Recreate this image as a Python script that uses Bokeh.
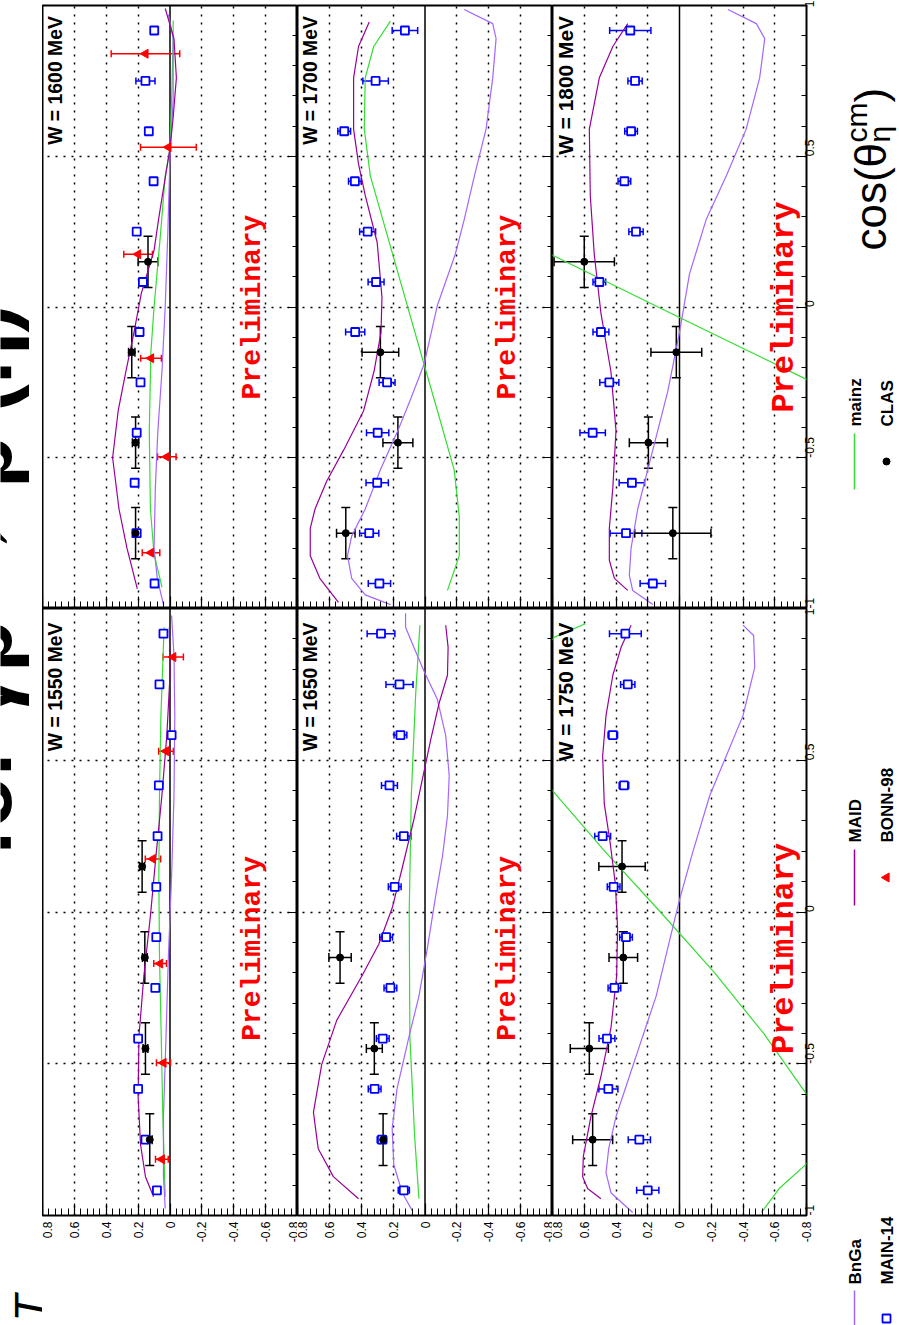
import math
from bokeh.plotting import figure
from bokeh.layouts import row, column
from bokeh.models import (Range1d, FixedTicker, CustomJSTickFormatter,
                          ColumnDataSource, Whisker, TeeHead, Span)
from bokeh.core.properties import value
from bokeh.embed import file_html
from bokeh.resources import INLINE

SANS = value("Liberation Sans")
MONO = value("Liberation Mono")

BLUE = "#0000ff"
RED = "#ff0000"
BNGA_COLOR = "#a366ff"
MAID_COLOR = "#990099"
MAINZ_COLOR = "#33dd33"

# ---------------------------------------------------------------- axes
T_MAJOR = [-0.8, -0.6, -0.4, -0.2, 0.0, 0.2, 0.4, 0.6, 0.8]
T_MINOR = [round(-0.8 + 0.04 * i, 2) for i in range(41)]
T_GRID = [-0.6, -0.4, -0.2, 0.2, 0.4, 0.6]
COS_MAJOR = [-1.0, -0.5, 0.0, 0.5, 1.0]
COS_MINOR = [round(-1.0 + 0.1 * i, 1) for i in range(21)]
COS_GRID = [-0.5, 0.0, 0.5]

# ---------------------------------------------------------------- angular bins
COS_MAIN14 = [-0.917, -0.75, -0.583, -0.417, -0.25, -0.083,
              0.083, 0.25, 0.417, 0.583, 0.75, 0.917]
COS_CLAS = [-0.75, -0.45, -0.15, 0.15]
COS_CLAS_HALF = 0.085
COS_BONN98 = [-0.815, -0.497, -0.17, 0.175, 0.53, 0.84]

# ---------------------------------------------------------------- MAIN-14
MAIN14_T_1550 = [0.082, 0.154, 0.2, 0.2, 0.092, 0.086, 0.086, 0.078, 0.07, -0.01, 0.066, 0.041]
MAIN14_E_1550 = [0.015] * 12
MAIN14_T_1600 = [0.097, 0.209, 0.222, 0.209, 0.185, 0.191, 0.17, 0.209, 0.103, 0.133, 0.154, 0.099]
MAIN14_E_1600 = [0.02, 0.02, 0.02, 0.02, 0.02, 0.02, 0.02, 0.02, 0.02, 0.02, 0.06, 0.02]
MAIN14_T_1650 = [0.133, 0.27, 0.316, 0.265, 0.217, 0.244, 0.19, 0.133, 0.223, 0.154, 0.16, 0.276]
MAIN14_E_1650 = [0.035, 0.03, 0.04, 0.04, 0.04, 0.04, 0.04, 0.045, 0.05, 0.04, 0.085, 0.087]
MAIN14_T_1700 = [0.286, 0.35, 0.3, 0.297, 0.238, 0.438, 0.307, 0.36, 0.44, 0.507, 0.31, 0.126]
MAIN14_E_1700 = [0.07, 0.06, 0.07, 0.07, 0.05, 0.06, 0.05, 0.05, 0.04, 0.04, 0.08, 0.08]
MAIN14_T_1750 = [0.2, 0.253, 0.448, 0.457, 0.41, 0.337, 0.415, 0.484, 0.35, 0.42, 0.326, 0.341]
MAIN14_E_1750 = [0.07, 0.07, 0.06, 0.05, 0.04, 0.04, 0.04, 0.05, 0.03, 0.03, 0.045, 0.1]
MAIN14_T_1800 = [0.168, 0.337, 0.3, 0.547, 0.442, 0.495, 0.505, 0.274, 0.347, 0.305, 0.28, 0.31]
MAIN14_E_1800 = [0.08, 0.1, 0.08, 0.08, 0.06, 0.05, 0.04, 0.045, 0.04, 0.04, 0.045, 0.13]

# ---------------------------------------------------------------- CLAS
CLAS_T_1550 = [0.127, 0.154, 0.158, 0.175]
CLAS_E_1550 = [0.015, 0.015, 0.015, 0.015]
CLAS_T_1600 = [0.216, 0.216, 0.24, 0.138]
CLAS_E_1600 = [0.02, 0.02, 0.02, 0.062]
CLAS_T_1650 = [0.263, 0.318, 0.533]
CLAS_E_1650 = [0.02, 0.05, 0.07]
CLAS_T_1700 = [0.497, 0.17, 0.28]
CLAS_E_1700 = [0.058, 0.094, 0.115]
CLAS_T_1750 = [0.547, 0.568, 0.354, 0.362]
CLAS_E_1750 = [0.126, 0.12, 0.09, 0.146]
CLAS_T_1800 = [0.042, 0.196, 0.02, 0.6]
CLAS_E_1800 = [0.24, 0.12, 0.16, 0.19]

# ---------------------------------------------------------------- BONN-98
BONN98_T_1550 = [0.051, 0.041, 0.062, 0.107, 0.025, -0.02]
BONN98_E_1550 = [0.04, 0.044, 0.04, 0.048, 0.046, 0.064]
BONN98_T_1600 = [0.119, 0.02, 0.119, 0.2, 0.01, 0.154]
BONN98_E_1600 = [0.055, 0.058, 0.065, 0.09, 0.175, 0.215]

# ---------------------------------------------------------------- model curves
BNGA_COS_1550 = [-0.977, -0.872, -0.674, -0.41, -0.145, 0.119, 0.383, 0.647, 0.845, 0.977]
BNGA_T_1550 = [0.03, 0.041, 0.041, 0.025, 0.01, -0.01, -0.025, -0.03, -0.025, -0.01]
MAID_COS_1550 = [-0.938, -0.872, -0.766, -0.608, -0.41, -0.211, -0.013, 0.185, 0.383, 0.581, 0.78, 0.938]
MAID_T_1550 = [0.103, 0.154, 0.185, 0.2, 0.195, 0.164, 0.123, 0.088, 0.051, 0.02, 0.0, 0.004]
MAINZ_COS_1550 = [-0.938, -0.674, -0.41, -0.145, 0.119, 0.383, 0.647, 0.938]
MAINZ_T_1550 = [0.03, 0.045, 0.055, 0.066, 0.07, 0.066, 0.057, 0.037]

BNGA_COS_1600 = [-0.99, -0.9, -0.8, -0.6, -0.41, -0.21, 0.0, 0.24, 0.5, 0.69, 0.89, 0.97]
BNGA_T_1600 = [0.04, 0.08, 0.1, 0.092, 0.076, 0.05, 0.03, 0.014, 0.0, -0.02, -0.02, 0.01]
MAID_COS_1600 = [-0.935, -0.8, -0.67, -0.5, -0.344, -0.214, -0.084, 0.045, 0.188, 0.29,
                 0.396, 0.526, 0.63, 0.76, 0.89, 0.99]
MAID_T_1600 = [0.205, 0.27, 0.32, 0.36, 0.325, 0.277, 0.226, 0.18, 0.1, 0.072,
               0.04, 0.0, -0.02, -0.04, -0.025, 0.03]
MAINZ_COS_1600 = [-0.93, -0.82, -0.67, -0.41, -0.15, 0.0, 0.24, 0.435, 0.526, 0.69, 0.89, 0.95]
MAINZ_T_1600 = [0.05, 0.1, 0.123, 0.13, 0.12, 0.1, 0.06, 0.03, 0.0, -0.01, -0.02, -0.02]

BNGA_COS_1650 = [-0.984, -0.925, -0.832, -0.713, -0.581, -0.41, -0.277, -0.119, 0.053,
                 0.185, 0.317, 0.449, 0.581, 0.7, 0.793, 0.872, 0.938, 0.984]
BNGA_T_1650 = [0.08, 0.143, 0.196, 0.206, 0.175, 0.1, 0.038, -0.015, -0.067,
               -0.11, -0.141, -0.152, -0.13, -0.078, 0.006, 0.07, 0.122, 0.122]
MAID_COS_1650 = [-0.945, -0.872, -0.78, -0.66, -0.502, -0.357, -0.211, -0.106, 0.013,
                 0.145, 0.304, 0.436, 0.568, 0.687, 0.78, 0.872, 0.945]
MAID_T_1650 = [0.417, 0.575, 0.67, 0.7, 0.648, 0.554, 0.396, 0.29, 0.206,
               0.143, 0.07, 0.017, -0.036, -0.088, -0.141, -0.145, -0.13]
MAINZ_COS_1650 = [-0.945, -0.74, -0.41, 0.0, 0.383, 0.713, 0.945]
MAINZ_T_1650 = [0.038, 0.065, 0.095, 0.099, 0.086, 0.059, 0.032]

BNGA_COS_1700 = [-0.987, -0.955, -0.9, -0.825, -0.76, -0.67, -0.54, -0.41, -0.305, -0.19,
                 0.006, 0.175, 0.29, 0.435, 0.59, 0.76, 0.89, 0.94, 0.987]
BNGA_T_1700 = [0.217, 0.375, 0.46, 0.486, 0.46, 0.375, 0.28, 0.17, 0.09, 0.006,
               -0.078, -0.19, -0.246, -0.31, -0.383, -0.425, -0.446, -0.425, -0.246]
MAID_COS_1700 = [-0.98, -0.9, -0.825, -0.734, -0.67, -0.578, -0.474, -0.344, -0.214,
                 -0.084, 0.032, 0.214, 0.37, 0.474, 0.59, 0.76, 0.864, 0.945]
MAID_T_1700 = [0.543, 0.66, 0.72, 0.72, 0.69, 0.617, 0.51, 0.385, 0.32,
               0.276, 0.27, 0.3, 0.375, 0.417, 0.448, 0.448, 0.417, 0.35]
MAINZ_COS_1700 = [-0.94, -0.825, -0.695, -0.54, -0.344, -0.19, 0.045, 0.24, 0.435,
                  0.59, 0.76, 0.864, 0.948]
MAINZ_T_1700 = [-0.141, -0.215, -0.215, -0.183, -0.078, 0.006, 0.133, 0.238, 0.343,
                0.381, 0.375, 0.322, 0.217]

BNGA_COS_1750 = [-0.99, -0.925, -0.859, -0.78, -0.674, -0.542, -0.41, -0.277, -0.119,
                 0.04, 0.198, 0.383, 0.515, 0.647, 0.806, 0.911, 0.945]
BNGA_T_1750 = [0.295, 0.432, 0.463, 0.446, 0.4, 0.316, 0.232, 0.147, 0.074,
               0.0, -0.084, -0.19, -0.295, -0.4, -0.474, -0.467, -0.4]
MAID_COS_1750 = [-0.945, -0.911, -0.872, -0.806, -0.674, -0.542, -0.383, -0.211, -0.053,
                 0.092, 0.225, 0.357, 0.515, 0.647, 0.78, 0.872, 0.945]
MAID_T_1750 = [0.495, 0.579, 0.61, 0.606, 0.558, 0.495, 0.432, 0.396, 0.39,
               0.404, 0.436, 0.474, 0.484, 0.463, 0.42, 0.368, 0.305]
MAINZ_COS_1750 = [-0.99, -0.91, -0.83, -0.72, -0.6, -0.4, -0.2, 0.0, 0.2, 0.4, 0.65, 0.905, 0.95]
MAINZ_T_1750 = [-0.516, -0.63, -0.8, -0.9, -0.8, -0.53, -0.22, 0.12, 0.47, 0.8, 1.2, 0.79, 0.594]

BNGA_COS_1800 = [-0.987, -0.94, -0.89, -0.8, -0.67, -0.474, -0.28, -0.084, 0.11, 0.29,
                 0.435, 0.59, 0.76, 0.89, 0.94, 0.987]
BNGA_T_1800 = [0.168, 0.295, 0.316, 0.305, 0.263, 0.168, 0.074, 0.0, -0.063, -0.168,
               -0.295, -0.42, -0.505, -0.537, -0.484, -0.305]
MAID_COS_1800 = [-0.94, -0.9, -0.84, -0.734, -0.6, -0.41, -0.214, -0.02, 0.175, 0.37,
                 0.59, 0.76, 0.864, 0.94]
MAID_T_1800 = [0.326, 0.41, 0.442, 0.442, 0.42, 0.4, 0.432, 0.495, 0.537, 0.562,
               0.568, 0.505, 0.42, 0.326]
MAINZ_COS_1800 = [-0.35, -0.24, 0.0, 0.169, 0.3]
MAINZ_T_1800 = [-1.23, -0.8, 0.135, 0.79, 1.3]

PANELS = [
    dict(w=1600, row=0, col=0, main=(MAIN14_T_1600, MAIN14_E_1600),
         clas=(COS_CLAS, CLAS_T_1600, CLAS_E_1600), bonn=(BONN98_T_1600, BONN98_E_1600),
         bnga=(BNGA_COS_1600, BNGA_T_1600), maid=(MAID_COS_1600, MAID_T_1600),
         mainz=(MAINZ_COS_1600, MAINZ_T_1600)),
    dict(w=1700, row=0, col=1, main=(MAIN14_T_1700, MAIN14_E_1700),
         clas=(COS_CLAS[:3], CLAS_T_1700, CLAS_E_1700), bonn=None,
         bnga=(BNGA_COS_1700, BNGA_T_1700), maid=(MAID_COS_1700, MAID_T_1700),
         mainz=(MAINZ_COS_1700, MAINZ_T_1700)),
    dict(w=1800, row=0, col=2, main=(MAIN14_T_1800, MAIN14_E_1800),
         clas=(COS_CLAS, CLAS_T_1800, CLAS_E_1800), bonn=None,
         bnga=(BNGA_COS_1800, BNGA_T_1800), maid=(MAID_COS_1800, MAID_T_1800),
         mainz=(MAINZ_COS_1800, MAINZ_T_1800)),
    dict(w=1550, row=1, col=0, main=(MAIN14_T_1550, MAIN14_E_1550),
         clas=(COS_CLAS, CLAS_T_1550, CLAS_E_1550), bonn=(BONN98_T_1550, BONN98_E_1550),
         bnga=(BNGA_COS_1550, BNGA_T_1550), maid=(MAID_COS_1550, MAID_T_1550),
         mainz=(MAINZ_COS_1550, MAINZ_T_1550)),
    dict(w=1650, row=1, col=1, main=(MAIN14_T_1650, MAIN14_E_1650),
         clas=(COS_CLAS[:3], CLAS_T_1650, CLAS_E_1650), bonn=None,
         bnga=(BNGA_COS_1650, BNGA_T_1650), maid=(MAID_COS_1650, MAID_T_1650),
         mainz=(MAINZ_COS_1650, MAINZ_T_1650)),
    dict(w=1750, row=1, col=2, main=(MAIN14_T_1750, MAIN14_E_1750),
         clas=(COS_CLAS, CLAS_T_1750, CLAS_E_1750), bonn=None,
         bnga=(BNGA_COS_1750, BNGA_T_1750), maid=(MAID_COS_1750, MAID_T_1750),
         mainz=(MAINZ_COS_1750, MAINZ_T_1750)),
]

ROT = math.pi / 2  # every text on the page reads bottom-to-top
MID = 0.3465       # baseline-to-middle distance of Liberation Sans, in em


def style_axis(ax, show, major_len, minor_len, standoff):
    ax.axis_line_color = None
    ax.major_tick_in = major_len
    ax.major_tick_out = 0
    ax.minor_tick_in = minor_len
    ax.minor_tick_out = 0
    ax.major_tick_line_color = "black"
    ax.minor_tick_line_color = "black"
    ax.major_tick_line_width = 1.2
    ax.minor_tick_line_width = 1
    ax.major_label_orientation = ROT
    if show:
        ax.formatter = CustomJSTickFormatter(
            code="return (Math.round(tick * 10) / 10).toString();")
        ax.major_label_text_font = "Liberation Sans"
        ax.major_label_text_font_size = "12px"
        ax.major_label_text_color = "black"
        ax.major_label_standoff = standoff
    else:
        ax.formatter = CustomJSTickFormatter(code="return '';")
        ax.major_label_text_font_size = "0px"
        ax.major_label_standoff = 0


def tee(color, size):
    return TeeHead(size=size, line_color=color, line_width=1.5)


def h_errors(p, cos, t, err, color, size):
    src = ColumnDataSource(dict(c=cos, t=t,
                                lo=[a - b for a, b in zip(t, err)],
                                hi=[a + b for a, b in zip(t, err)]))
    p.add_layout(Whisker(source=src, base="c", lower="lo", upper="hi", dimension="width",
                         line_color=color, line_width=1.5,
                         lower_head=tee(color, size), upper_head=tee(color, size)))
    return src


def make_panel(spec):
    top = spec["row"] == 0
    last = spec["col"] == 2
    p = figure(frame_width=254 if last else 255, frame_height=603 if top else 607,
               x_range=Range1d(0.8, -0.8), y_range=Range1d(-1.0, 1.0),
               x_axis_location="below", y_axis_location="right",
               min_border_left=0, min_border_right=20 if last else 0,
               min_border_top=5 if top else 0, min_border_bottom=0 if top else 110,
               output_backend="svg", toolbar_location=None)
    p.outline_line_color = "black"
    p.outline_line_width = 2
    p.background_fill_color = "white"
    p.border_fill_color = "white"

    xa = p.xaxis[0]
    xa.ticker = FixedTicker(ticks=T_MAJOR, minor_ticks=T_MINOR)
    style_axis(xa, not top, 12, 7, 6)
    ya = p.yaxis[0]
    ya.ticker = FixedTicker(ticks=COS_MAJOR, minor_ticks=COS_MINOR)
    style_axis(ya, last, 10, 5, 3)

    p.xgrid.ticker = FixedTicker(ticks=T_GRID)
    p.ygrid.ticker = FixedTicker(ticks=COS_GRID)
    for g in (p.xgrid, p.ygrid):
        g.grid_line_color = "black"
        g.grid_line_dash = "2 6"
        g.grid_line_width = 1.5
    p.add_layout(Span(location=0, dimension="height", line_color="black",
                      line_width=1.5, level="underlay"))

    # model curves
    for key, color in (("mainz", MAINZ_COLOR), ("bnga", BNGA_COLOR), ("maid", MAID_COLOR)):
        cs, ts = spec[key]
        p.line(x=ts, y=cs, line_color=color, line_width=1.2)

    # MAIN-14
    t, e = spec["main"]
    src = h_errors(p, COS_MAIN14, t, e, BLUE, 7)
    p.scatter(x="t", y="c", source=src, marker="square", size=8,
              line_color=BLUE, line_width=1.8, fill_color="white")

    # BONN-98
    if spec["bonn"] is not None:
        t, e = spec["bonn"]
        src = h_errors(p, COS_BONN98, t, e, RED, 7)
        p.scatter(x="t", y="c", source=src, marker="triangle", size=9, angle=ROT,
                  line_color=RED, fill_color=RED)

    # CLAS
    c, t, e = spec["clas"]
    src = h_errors(p, c, t, e, "black", 9)
    src.data["clo"] = [v - COS_CLAS_HALF for v in c]
    src.data["chi"] = [v + COS_CLAS_HALF for v in c]
    p.add_layout(Whisker(source=src, base="t", lower="clo", upper="chi", dimension="height",
                         line_color="black", line_width=1.5,
                         lower_head=tee("black", 9), upper_head=tee("black", 9)))
    p.scatter(x="t", y="c", source=src, marker="circle", size=7,
              line_color="black", fill_color="black")

    # panel texts
    p.text(x=[0.72], y=[0.965 if top else 0.954], text=[f"W = {spec['w']} MeV"],
           angle=ROT, text_align="right", text_baseline="middle",
           text_font=SANS, text_font_style="bold",
           text_font_size="20.9px" if last else "19.4px", text_color="black")
    p.text(x=[-0.66 if last else -0.515], y=[0.0 if top else -0.12], text=["Preliminary"],
           angle=ROT, text_align="center", text_baseline="middle",
           text_font=MONO, text_font_style="bold",
           text_font_size="32px" if last else "28px", text_color=RED)
    return p


panels = {(s["row"], s["col"]): make_panel(s) for s in PANELS}


def side_text(fig, base_x, y, s, size, style="normal"):
    """Rotated text whose baseline sits at page column base_x and that starts at row y."""
    fig.text(x=[base_x - MID * size], y=[y], text=[s], angle=ROT, text_align="left",
             text_baseline="middle", text_font=SANS, text_font_style=style,
             text_font_size=f"{size}px", text_color="black")


# left margin: page title and the axis quantity
left = figure(width=42, height=1325, x_range=Range1d(0, 42), y_range=Range1d(1325, 0),
              x_axis_location=None, y_axis_location=None, min_border=0,
              output_backend="svg", toolbar_location=None)
left.outline_line_color = None
left.grid.visible = False
side_text(left, 10, 856, "for γp → p (η)", 85, "bold")
side_text(left, 45, 1321, "T", 44, "italic")

# right margin: angle title and legend
right = figure(width=73, height=1325, x_range=Range1d(826, 899), y_range=Range1d(1325, 0),
               x_axis_location=None, y_axis_location=None, min_border=0,
               output_backend="svg", toolbar_location=None)
right.outline_line_color = None
right.grid.visible = False

side_text(right, 885, 250, "cos(θ", 44)
side_text(right, 866, 142, "cm", 30)
side_text(right, 889, 142, "η", 30)
side_text(right, 885, 102, ")", 44)

LEG_ROW1_X, LEG_ROW2_X = 854, 886
for (y_text, y_sym, top_name, top_color, bot_name) in (
        (1284, 1318, "BnGa", BNGA_COLOR, "MAIN-14"),
        (842, 877, "MAID", MAID_COLOR, "BONN-98"),
        (426, 461, "mainz", MAINZ_COLOR, "CLAS")):
    right.line(x=[LEG_ROW1_X, LEG_ROW1_X], y=[y_sym - 28, y_sym + 28],
               line_color=top_color, line_width=1.5)
    side_text(right, 861, y_text, top_name, 17, "bold")
    side_text(right, 893, y_text, bot_name, 17, "bold")

right.scatter(x=[LEG_ROW2_X], y=[1318], marker="square", size=8,
              line_color=BLUE, line_width=1.8, fill_color="white")
right.scatter(x=[LEG_ROW2_X], y=[877], marker="triangle", size=9, angle=ROT,
              line_color=RED, fill_color=RED)
right.scatter(x=[LEG_ROW2_X], y=[461], marker="circle", size=7,
              line_color="black", fill_color="black")

grid = column(row(panels[(0, 0)], panels[(0, 1)], panels[(0, 2)]),
              row(panels[(1, 0)], panels[(1, 1)], panels[(1, 2)]))
page = row(left, grid, right)

with open("out.html", "w") as f:
    f.write(file_html(page, INLINE, title="T asymmetry"))
